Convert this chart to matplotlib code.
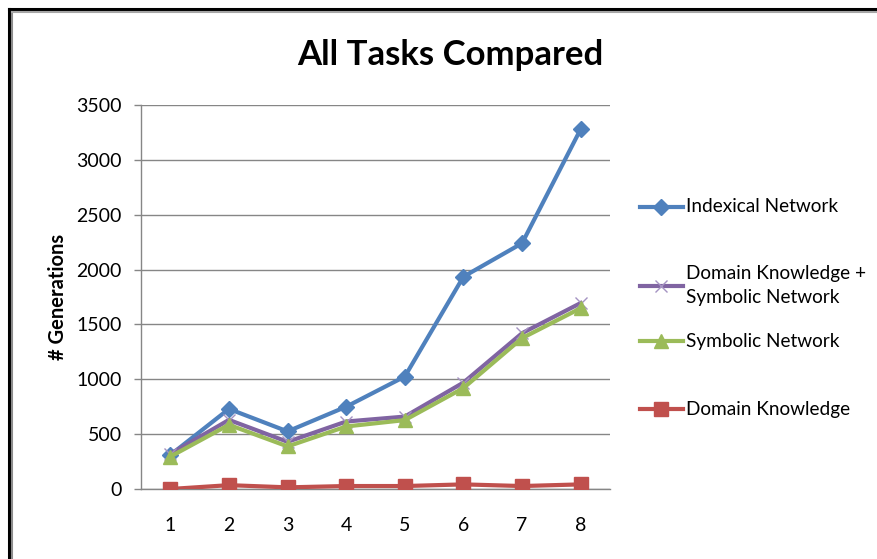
import matplotlib
matplotlib.use("Agg")
import matplotlib.pyplot as plt
from matplotlib.lines import Line2D

plt.rcParams["font.family"] = ["Lato", "DejaVu Sans"]

# data
tasks = [1, 2, 3, 4, 5, 6, 7, 8]
indexical = [310, 730, 525, 750, 1025, 1935, 2240, 3280]
dk_symbolic = [320, 630, 430, 615, 660, 970, 1420, 1695]
symbolic = [295, 585, 388, 570, 628, 920, 1375, 1648]
domain_knowledge = [0, 35, 15, 27, 27, 42, 27, 42]
yticks = [0, 500, 1000, 1500, 2000, 2500, 3000, 3500]

W, H = 877, 559
fig = plt.figure(figsize=(W / 100, H / 100), dpi=100)
fig.patch.set_facecolor("white")

# outer chart frame (black line with grey shadow), cut off at right/bottom
fig.add_artist(Line2D([9 / W, 9 / W], [0, 1 - 9 / H], color="black", lw=2.2, transform=fig.transFigure))
fig.add_artist(Line2D([9 / W, 1], [1 - 9 / H, 1 - 9 / H], color="black", lw=2.2, transform=fig.transFigure))
fig.add_artist(Line2D([11.5 / W, 11.5 / W], [0, 1 - 11.5 / H], color="#8c8c8c", lw=1.5, transform=fig.transFigure))
fig.add_artist(Line2D([11.5 / W, 1], [1 - 11.5 / H, 1 - 11.5 / H], color="#a6a6a6", lw=1.5, transform=fig.transFigure))

ax = fig.add_axes([141 / W, (H - 489) / H, 469 / W, 384 / H])

series = [
    ("Indexical Network", indexical, dict(color="#4F81BD", marker="D", ms=8.5), 3),
    ("Domain Knowledge +\nSymbolic Network", dk_symbolic,
     dict(color="#8064A2", marker="x", ms=9, mew=1, mec="#a593c2"), 3),
    ("Symbolic Network", symbolic, dict(color="#9BBB59", marker="^", ms=10), 4),
    ("Domain Knowledge", domain_knowledge, dict(color="#C0504D", marker="s", ms=9.5), 5),
]

# legend rows (pixel centres from top), drawn by hand like Excel's spacing
legend_y = [207, 286, 341, 409]

for (label, vals, style, z), ly in zip(series, legend_y):
    ax.plot(tasks, vals, lw=3, zorder=z, **style)
    yy = 1 - ly / H
    fig.add_artist(Line2D([640 / W, 661 / W, 683 / W], [yy, yy, yy], lw=3, markevery=[1],
                          transform=fig.transFigure, **style))
    fig.text(686 / W, yy, label, ha="left", va="center", fontsize=13.7, linespacing=1.5)

ax.set_xlim(0.5, 8.5)
ax.set_ylim(0, 3500)
ax.set_xticks(tasks)
ax.set_yticks(yticks)
ax.tick_params(axis="x", length=0, pad=20, labelsize=14, colors="black")
ax.tick_params(axis="y", length=5, width=1, color="#868686", pad=9, labelsize=14)
ax.yaxis.grid(True, color="#868686", lw=1)
ax.set_axisbelow(True)
for side in ["top", "right"]:
    ax.spines[side].set_visible(False)
for side in ["left", "bottom"]:
    ax.spines[side].set_color("#868686")
    ax.spines[side].set_linewidth(1)

ax.set_ylabel("# Generations", fontsize=14.5, fontweight="bold", labelpad=6)
fig.text(450 / W, 1 - 55 / H, "All Tasks Compared", ha="center", va="center", fontsize=25, fontweight="bold")

fig.savefig("out.png", dpi=100)
